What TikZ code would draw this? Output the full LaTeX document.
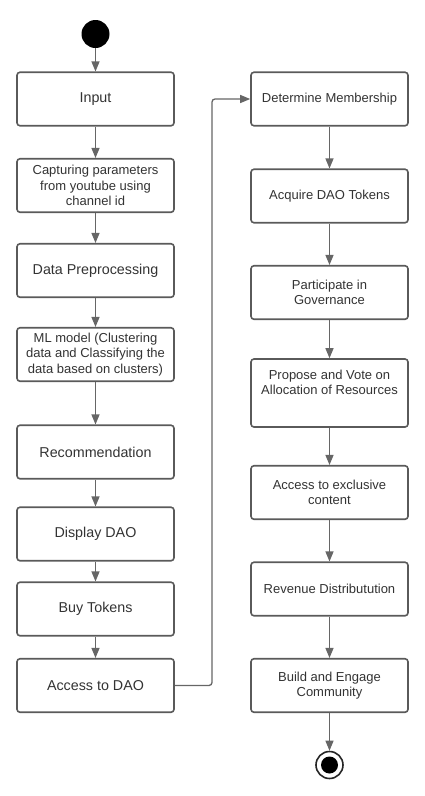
\documentclass[tikz,border=0pt]{standalone}
\usepackage{fontspec}
\setmainfont{Liberation Sans}
\usetikzlibrary{arrows.meta}
\definecolor{boxline}{HTML}{5A5A5A}
\definecolor{conline}{HTML}{666666}
\definecolor{txt}{HTML}{333333}
\tikzset{
  actbox/.style={draw=boxline, line width=1.6pt, rounded corners=3pt, fill=white,
    minimum width=157pt, minimum height=53.5pt, inner sep=0pt, align=center,
    text=txt},
  bigtxt/.style={font=\fontsize{14.3pt}{17pt}\selectfont},
  smalltxt/.style={font=\fontsize{13pt}{15.3pt}\selectfont},
  flow/.style={draw=conline, line width=1.3pt, -{Triangle[width=8pt,length=10pt]}},
}
\begin{document}
\begin{tikzpicture}[x=1pt,y=-1pt]
\useasboundingbox (0,0) rectangle (425,796);
% start
\node[circle, fill=black, minimum size=28pt, inner sep=0pt] (start) at (95.5,34) {};
% left column
\node[actbox,bigtxt]   (input) at (95.5,99)   {Input};
\node[actbox,smalltxt] (cap)   at (95.5,185.5) {Capturing parameters\\from youtube using\\channel id};
\node[actbox,bigtxt]   (pre)   at (95.5,270.5) {Data Preprocessing};
\node[actbox,smalltxt] (ml)    at (95.5,354.5) {ML model (Clustering\\data and Classifying the\\data based on clusters)};
\node[actbox,bigtxt]   (rec)   at (95.5,452)   {Recommendation};
\node[actbox,bigtxt]   (disp)  at (95.5,534)   {Display DAO};
\node[actbox,bigtxt]   (buy)   at (95.5,609)   {Buy Tokens};
\node[actbox,bigtxt]   (acc)   at (95.5,685.5) {Access to DAO};
% right column
\node[actbox,smalltxt] (det)   at (329.5,99)    {Determine Membership};
\node[actbox,smalltxt] (acq)   at (329.5,196)   {Acquire DAO Tokens};
\node[actbox,smalltxt] (part)  at (329.5,292.5) {Participate in\\Governance};
\node[actbox,smalltxt, minimum height=68pt] (prop) at (329.5,393) {Propose and Vote on\\Allocation of Resources\\[6pt]};
\node[actbox,smalltxt] (excl)  at (329.5,492.5) {Access to exclusive\\content};
\node[actbox,smalltxt] (rev)   at (329.5,589)   {Revenue Distributution};
\node[actbox,smalltxt] (build) at (329.5,685.5) {Build and Engage\\Community};
% end
\node[circle, draw=black!85, line width=1.6pt, fill=white, minimum size=27pt, inner sep=0pt] (end) at (329.5,765) {};
\node[circle, fill=black, minimum size=17pt, inner sep=0pt] (endin) at (329.5,765) {};
% connectors
\draw[flow] (start) -- (input);
\draw[flow] (input) -- (cap);
\draw[flow] (cap) -- (pre);
\draw[flow] (pre) -- (ml);
\draw[flow] (ml) -- (rec);
\draw[flow] (rec) -- (disp);
\draw[flow] (disp) -- (buy);
\draw[flow] (buy) -- (acc);
\coordinate (turn) at (212,685.5);
\draw[flow, rounded corners=3pt] (acc.east) -- (turn) |- (det.west);
\draw[flow] (det) -- (acq);
\draw[flow] (acq) -- (part);
\draw[flow] (part) -- (prop);
\draw[flow] (prop) -- (excl);
\draw[flow] (excl) -- (rev);
\draw[flow] (rev) -- (build);
\draw[flow] (build) -- (end);
\end{tikzpicture}
\end{document}
